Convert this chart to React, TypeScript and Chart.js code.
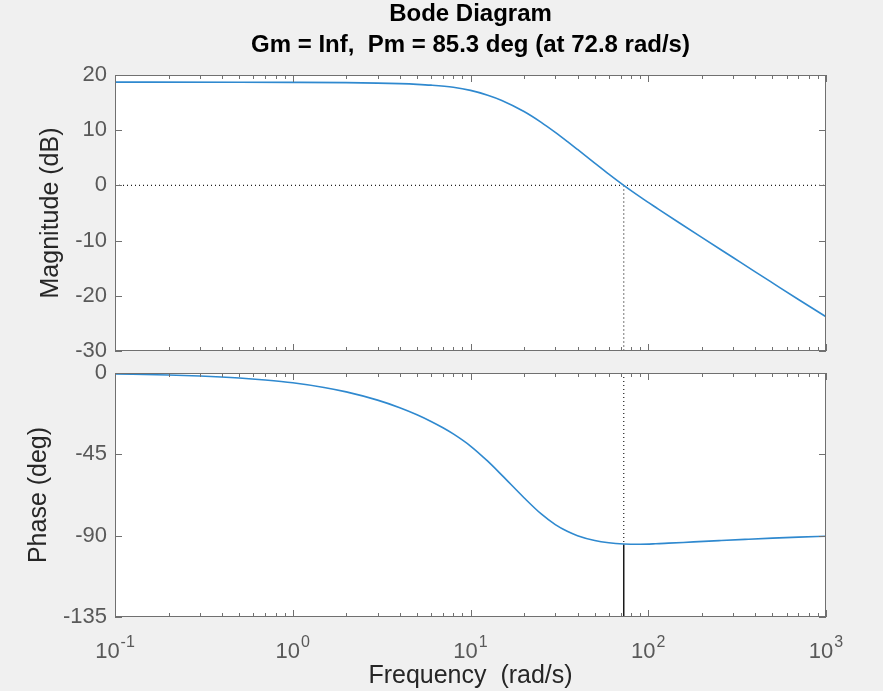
import React, { useEffect, useRef } from "react";
import { Chart, registerables } from "chart.js";

Chart.register(...registerables);

const FONT = '"Liberation Sans", Arial, Helvetica, sans-serif';

// ---- data ----
const magFreq = [0.1, 0.5, 1, 2, 3, 4, 5, 6, 8, 10, 12.5, 15, 20, 25, 30, 35, 40, 50, 60, 72.8, 90, 100, 110, 150, 200, 300, 400, 500, 700, 1000];
const magDb = [18.71, 18.7, 18.67, 18.61, 18.53, 18.43, 18.31, 18.16, 17.77, 17.21, 16.34, 15.39, 13.39, 11.43, 9.61, 7.97, 6.51, 4.04, 2.04, 0, -2.09, -3.08, -3.96, -6.81, -9.42, -13.07, -15.66, -17.66, -20.67, -23.8];

const phaseFreq = [0.1, 0.2, 0.3, 0.5, 0.7, 1, 1.5, 2, 3, 4, 5, 6, 7, 8, 10, 12.5, 15, 20, 25, 30, 35, 40, 50, 60, 72.8, 90, 110, 130, 180, 250, 350, 500, 700, 1000];
const phaseDeg = [-0.55, -1.1, -1.65, -2.75, -3.85, -5.4, -8.0, -10.45, -15.0, -19.2, -23.1, -26.8, -30.3, -33.7, -40.4, -48.8, -56.5, -69.0, -78.0, -83.9, -87.6, -90.0, -92.7, -93.95, -94.6, -94.75, -94.5, -94.15, -93.45, -92.75, -92.05, -91.35, -90.8, -90.3];

const crossFreq = 72.8;
const phaseMargin = 85.3;
const phaseAtCross = -94.7;

const xMin = 0.1;
const xMax = 1000;
const xTickExponents = [-1, 0, 1, 2, 3];
const magTicks = [20, 10, 0, -10, -20, -30];
const phaseTicks = [0, -45, -90, -135];

const titleLines = ["Bode Diagram", `Gm = Inf,  Pm = ${phaseMargin} deg (at ${crossFreq} rad/s)`];

// ---- styles ----
const CURVE = "#2f89cf";
const AXIS = "#707070";
const TICK_TEXT = "#595959";
const LABEL_TEXT = "#262626";
const DOT = "#1f1f1f";

const toPts = (xs: number[], ys: number[]) => xs.map((x, i) => ({ x, y: ys[i] }));

const framePlugin = {
  id: "frame",
  beforeDatasetsDraw(chart: any) {
    const { ctx, chartArea: a } = chart;
    ctx.save();
    ctx.fillStyle = "#ffffff";
    ctx.fillRect(a.left, a.top, a.right - a.left, a.bottom - a.top);
    ctx.restore();
  },
  afterDatasetsDraw(chart: any) {
    const { ctx, chartArea: a, scales } = chart;
    const xs = scales.x;
    const ys = scales.y;
    ctx.save();
    ctx.strokeStyle = AXIS;
    ctx.lineWidth = 1;
    const vals: { v: number; major: boolean }[] = [];
    for (let i = 0; i < xTickExponents.length; i++) {
      const base = Math.pow(10, xTickExponents[i]);
      vals.push({ v: base, major: true });
      if (i < xTickExponents.length - 1) {
        for (let k = 2; k <= 9; k++) vals.push({ v: base * k, major: false });
      }
    }
    ctx.beginPath();
    for (const t of vals) {
      const px = Math.round(xs.getPixelForValue(t.v)) + 0.5;
      const len = t.major ? 7 : 4;
      ctx.moveTo(px, a.top);
      ctx.lineTo(px, a.top + len);
      ctx.moveTo(px, a.bottom);
      ctx.lineTo(px, a.bottom - len);
    }
    for (const t of ys.ticks) {
      const py = Math.round(ys.getPixelForValue(t.value)) + 0.5;
      ctx.moveTo(a.left, py);
      ctx.lineTo(a.left + 7, py);
      ctx.moveTo(a.right, py);
      ctx.lineTo(a.right - 7, py);
    }
    ctx.stroke();
    ctx.strokeRect(Math.round(a.left) + 0.5, Math.round(a.top) + 0.5, Math.round(a.right - a.left) - 1, Math.round(a.bottom - a.top) - 1);
    ctx.restore();
  },
};

const titlePlugin = {
  id: "bodeTitle",
  afterDraw(chart: any) {
    const { ctx, chartArea: a } = chart;
    const cx = (a.left + a.right) / 2;
    ctx.save();
    ctx.fillStyle = "#000000";
    ctx.font = `bold 24px ${FONT}`;
    ctx.textAlign = "center";
    ctx.textBaseline = "alphabetic";
    ctx.fillText(titleLines[0], cx, 21);
    ctx.fillText(titleLines[1], cx, 52);
    ctx.restore();
  },
};

const xLabelPlugin = {
  id: "xPowLabels",
  afterDraw(chart: any) {
    const { ctx, chartArea: a, scales } = chart;
    ctx.save();
    ctx.fillStyle = TICK_TEXT;
    ctx.textAlign = "left";
    ctx.textBaseline = "alphabetic";
    for (const e of xTickExponents) {
      const px = scales.x.getPixelForValue(Math.pow(10, e));
      ctx.font = `22px ${FONT}`;
      const wb = ctx.measureText("10").width;
      ctx.font = `16px ${FONT}`;
      const we = ctx.measureText(String(e)).width;
      const start = px - (wb + 1 + we) / 2;
      ctx.font = `22px ${FONT}`;
      ctx.fillText("10", start, a.bottom + 40.5);
      ctx.font = `16px ${FONT}`;
      ctx.fillText(String(e), start + wb + 1, a.bottom + 29.5);
    }
    ctx.restore();
  },
};

function yAxis(min: number, max: number, ticks: number[], title: string, titlePad: number) {
  return {
    type: "linear",
    position: "left",
    min,
    max,
    afterBuildTicks: (s: any) => {
      s.ticks = ticks.map((v) => ({ value: v }));
    },
    afterFit: (s: any) => {
      s.width = 115;
    },
    grid: { display: false, drawTicks: false },
    border: { display: false },
    ticks: { color: TICK_TEXT, font: { family: FONT, size: 22 }, padding: 8 },
    title: { display: true, text: title, color: LABEL_TEXT, font: { family: FONT, size: 25 }, padding: { top: titlePad, bottom: 0 } },
  };
}

const curveStyle = { showLine: true, borderColor: CURVE, borderWidth: 1.6, pointRadius: 0, cubicInterpolationMode: "monotone", tension: 0.4, order: 0 };
const dotStyle = { showLine: true, borderColor: DOT, borderWidth: 1.2, borderDash: [1, 3], pointRadius: 0, order: 1 };

export default function App() {
  const magRef = useRef<HTMLCanvasElement>(null);
  const phRef = useRef<HTMLCanvasElement>(null);

  useEffect(() => {
    const common = {
      animation: false,
      responsive: false,
      events: [],
      plugins: { legend: { display: false }, tooltip: { enabled: false }, title: { display: false } },
    };

    const c1 = new Chart(magRef.current!, {
      type: "scatter",
      data: {
        datasets: [
          { data: toPts(magFreq, magDb), ...curveStyle },
          { data: [{ x: xMin, y: 0 }, { x: xMax, y: 0 }], ...dotStyle },
          { data: [{ x: crossFreq, y: 0 }, { x: crossFreq, y: magTicks[magTicks.length - 1] }], ...dotStyle },
        ],
      },
      options: {
        ...common,
        layout: { padding: { left: 0, right: 57, top: 75, bottom: 49 } },
        scales: {
          x: { type: "logarithmic", min: xMin, max: xMax, display: false },
          y: yAxis(-30, 20, magTicks, "Magnitude (dB)", 36),
        },
      } as any,
      plugins: [framePlugin, titlePlugin],
    } as any);

    const c2 = new Chart(phRef.current!, {
      type: "scatter",
      data: {
        datasets: [
          { data: toPts(phaseFreq, phaseDeg), ...curveStyle },
          { data: [{ x: crossFreq, y: 0 }, { x: crossFreq, y: phaseAtCross }], ...dotStyle },
          { data: [{ x: crossFreq, y: phaseAtCross }, { x: crossFreq, y: phaseTicks[phaseTicks.length - 1] }], showLine: true, borderColor: "#1a1a1a", borderWidth: 1.5, pointRadius: 0, order: 1 },
        ],
      },
      options: {
        ...common,
        layout: { padding: { left: 0, right: 57, top: 33, bottom: 0 } },
        scales: {
          x: {
            type: "logarithmic",
            min: xMin,
            max: xMax,
            position: "bottom",
            afterFit: (s: any) => {
              s.height = 74;
            },
            grid: { display: false, drawTicks: false },
            border: { display: false },
            ticks: { display: false },
            title: { display: true, text: "Frequency  (rad/s)", color: LABEL_TEXT, font: { family: FONT, size: 25 }, padding: { top: 0, bottom: 0 } },
          },
          y: yAxis(-135, 0, phaseTicks, "Phase (deg)", 24),
        },
      } as any,
      plugins: [framePlugin, xLabelPlugin],
    } as any);

    return () => {
      c1.destroy();
      c2.destroy();
    };
  }, []);

  return (
    <div style={{ position: "fixed", left: 0, top: 0, width: 883, height: 691, background: "#f0f0f0", overflow: "hidden" }}>
      <canvas ref={magRef} width={883} height={400} style={{ position: "absolute", left: 0, top: 0 }} />
      <canvas ref={phRef} width={883} height={351} style={{ position: "absolute", left: 0, top: 340 }} />
    </div>
  );
}
